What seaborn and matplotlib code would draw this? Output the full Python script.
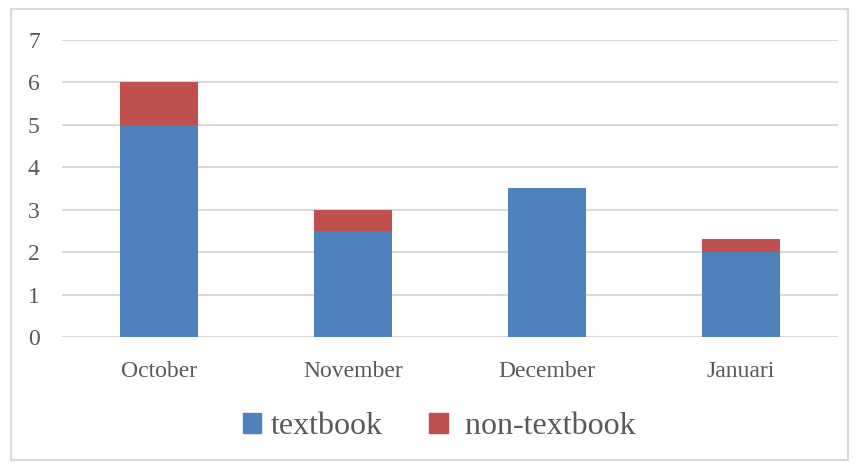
import matplotlib
matplotlib.use('Agg')
import matplotlib.pyplot as plt
import matplotlib.patches as mpatches
import seaborn as sns
import pandas as pd

months = ["October", "November", "December", "Januari"]
textbook = [5, 2.5, 3.5, 2]
non_textbook = [1, 0.5, 0, 0.3]
y_ticks = [0, 1, 2, 3, 4, 5, 6, 7]

BLUE = '#4F81BD'
RED = '#C0504D'
TEXT = '#595959'
GRID = '#D9D9D9'

sns.set_style('white')
plt.rcParams['font.family'] = ['Liberation Serif', 'DejaVu Serif']

df = pd.DataFrame({'month': months, 'textbook': textbook, 'non_textbook': non_textbook})
df['total'] = df['textbook'] + df['non_textbook']

fig = plt.figure(figsize=(8.58, 4.66), dpi=100)
ax = fig.add_axes([0.0723, 0.2768, 0.9044, 0.6374])

# stacked: draw totals in red, then textbook in blue over them
sns.barplot(data=df, x='month', y='total', color=RED, width=0.4,
            saturation=1, linewidth=0, ax=ax, zorder=2)
sns.barplot(data=df, x='month', y='textbook', color=BLUE, width=0.4,
            saturation=1, linewidth=0, ax=ax, zorder=3)

ax.set_xlim(-0.5, 3.5)
ax.set_ylim(0, 7)
ax.set_yticks(y_ticks)
ax.grid(axis='y', color=GRID, linewidth=1.5, zorder=0)
ax.set_axisbelow(True)
for s in ax.spines.values():
    s.set_visible(False)
ax.axhline(0, color=GRID, linewidth=1.5, zorder=1)

ax.set_xlabel('')
ax.set_ylabel('')
ax.tick_params(axis='both', length=0, colors=TEXT, labelsize=17)
ax.tick_params(axis='y', pad=16)
ax.tick_params(axis='x', pad=17)

patches = [mpatches.Patch(color=BLUE, label='textbook'),
           mpatches.Patch(color=RED, label=' non-textbook')]
leg = fig.legend(handles=patches, loc='center', bbox_to_anchor=(0.512, 0.084),
                 ncol=2, frameon=False, fontsize=23, handlelength=0.58,
                 handleheight=0.58, handletextpad=0.3, columnspacing=1.45)
for t in leg.get_texts():
    t.set_color(TEXT)

# light chart-area border
fig.patches.append(mpatches.Rectangle((11 / 858, 6 / 466), 837 / 858, 451 / 466,
                                      transform=fig.transFigure, fill=False,
                                      edgecolor=GRID, linewidth=1.5))

fig.savefig('out.png', dpi=100, facecolor='white')
